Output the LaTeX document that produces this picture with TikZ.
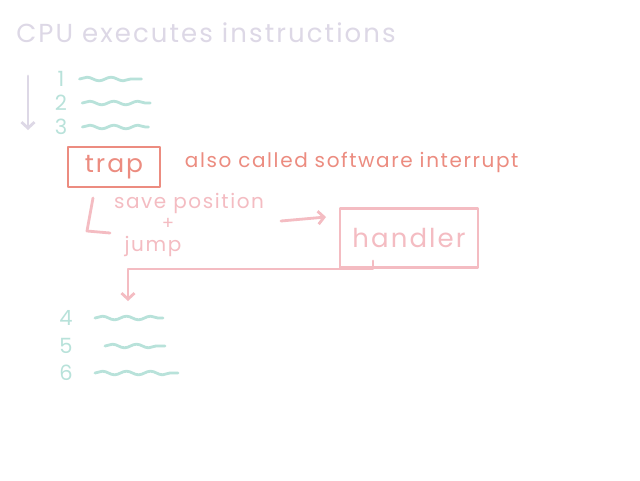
\documentclass[tikz,border=0pt]{standalone}
\usepackage{fontspec}
\setmainfont{Poppins}
\newfontfamily\handfont{Poppins}[LetterSpace=8]
\usetikzlibrary{arrows.meta,decorations.pathmorphing,positioning}
\definecolor{titlegray}{HTML}{DDD8E6}
\definecolor{lineteal}{HTML}{B8E2DA}
\definecolor{trapred}{HTML}{EC8C80}
\definecolor{handlerpink}{HTML}{F4BCC2}

\begin{document}
\begin{tikzpicture}[
  x=1pt,y=-1pt,
  >={Straight Barb[length=6pt,width=13pt]},
  hand/.style={line width=2.8pt,line cap=round,line join=round},
  wave/.style={hand,lineteal,decorate,decoration={snake,segment length=24pt,amplitude=1.8pt}},
  numlabel/.style={text=lineteal,font=\handfont\fontsize{21}{21}\selectfont,inner sep=1pt},
  trapbox/.style={draw=trapred,hand,text=trapred,minimum width=92pt,minimum height=40pt,font=\handfont\fontsize{25}{25}\selectfont},
  handlerbox/.style={draw=handlerpink,hand,text=handlerpink,minimum width=138pt,minimum height=59pt,font=\handfont\fontsize{26}{26}\selectfont},
  pinktext/.style={text=handlerpink,font=\handfont\fontsize{20}{20}\selectfont,inner sep=0pt},
  every node/.style={anchor=center}
]
  \useasboundingbox[fill=white] (0,0) rectangle (640,480);
  \node[text=titlegray,font=\handfont\fontsize{26}{26}\selectfont] (title) at (206,33) {CPU executes instructions};
  % flow of execution
  \coordinate (flowtop) at (28,76);
  \coordinate (flowend) at (28,130);
  \draw[hand,titlegray,->] (flowtop) -- (flowend);
  \foreach \n/\y/\len in {1/79/62,2/103/68,3/127/66} {
    \node[numlabel] (step\n) at (61,\y) {\n};
    \draw[wave] ([xshift=14pt]step\n.east) -- ++(\len,0);
  }
  % trap
  \node[trapbox] (trap) at (114,167) {trap};
  \node[text=trapred,font=\handfont\fontsize{20}{20}\selectfont,right=20pt of trap,yshift=5pt] (note) {also called software interrupt};
  % save position + jump
  \node[pinktext] (save) at (189,203) {save position};
  \node[pinktext,font=\handfont\fontsize{18}{18}\selectfont] (plus) at (168,224) {+};
  \node[pinktext] (jump) at (153,246) {jump};
  \draw[hand,handlerpink] (93,198) -- (87,231) -- (110,233);
  \node[handlerbox] (handler) at (409,238) {handler};
  \coordinate (jumpfrom) at (281,221);
  \coordinate (jumpto) at (326,217);
  \draw[hand,handlerpink,->] (jumpfrom) -- (jumpto);
  % return
  \coordinate (resume) at (128,301);
  \draw[hand,handlerpink,->] ([xshift=-36pt,yshift=8pt]handler.south) -- ++(0,8) -| (resume);
  \foreach \n/\y/\x/\len in {4/318/95/68,5/346/105/60,6/373/95/83} {
    \node[numlabel] (step\n) at (66,\y) {\n};
    \draw[wave] (\x,\y) -- ++(\len,0);
  }
\end{tikzpicture}
\end{document}
